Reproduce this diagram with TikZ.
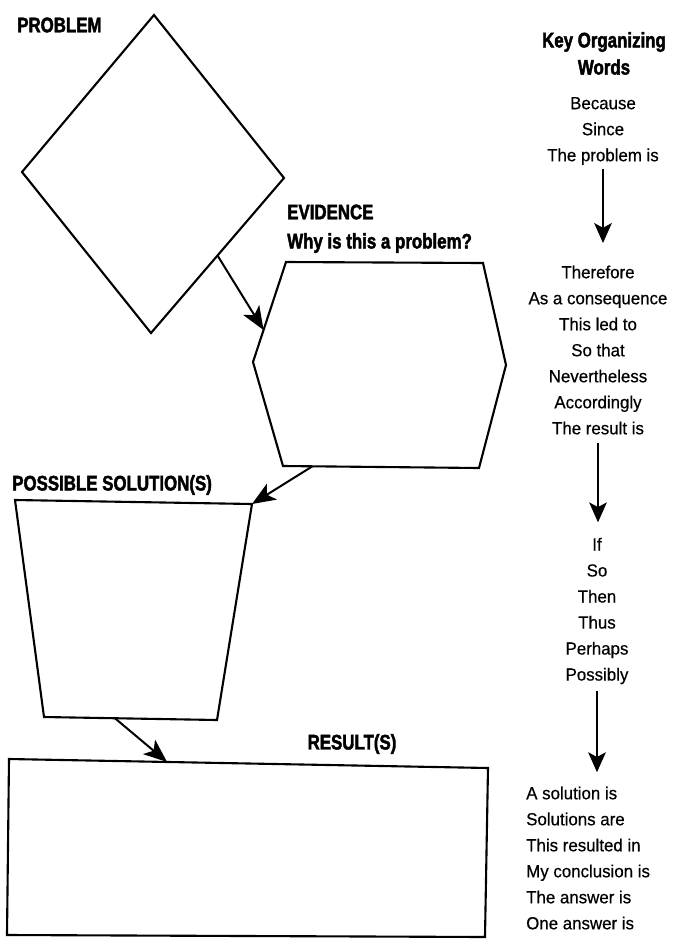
\documentclass[tikz,border=0pt]{standalone}
\usepackage{fontspec}
\setmainfont[FakeStretch=0.96,FakeBold=0.5]{Liberation Sans}
\newfontfamily\headfont[UprightFont=* Bold,FakeStretch=0.8,FakeBold=2]{Liberation Sans}
\usetikzlibrary{arrows.meta,calc}

\tikzset{
  outline/.style={line width=1.8pt, line join=miter},
  flowarrow/.style={line width=1.7pt, -{Stealth[length=20pt,width=16pt,inset=5pt]}},
  keyarrow/.style={line width=1.7pt, -{Stealth[length=17pt,width=15pt,inset=4pt]}},
  heading/.style={inner sep=0pt, font=\headfont\fontsize{18}{20}\selectfont},
  keywords/.style={inner sep=0pt, align=center, font=\fontsize{15}{22.2}\selectfont},
}

\begin{document}
\begin{tikzpicture}[x=0.03cm,y=-0.03cm]
\useasboundingbox (0,0) rectangle (676,939);
% corners of the four boxes
\coordinate (prob-n) at (154,15);
\coordinate (prob-e) at (284,178);
\coordinate (prob-s) at (151,333);
\coordinate (prob-w) at (22,172);
\coordinate (ev-nw) at (286,262);
\coordinate (ev-ne) at (483,263);
\coordinate (ev-e) at (506,365);
\coordinate (ev-se) at (479,468);
\coordinate (ev-sw) at (283,466);
\coordinate (ev-w) at (253,362);
\coordinate (sol-nw) at (15,500);
\coordinate (sol-ne) at (252,504);
\coordinate (sol-se) at (217,720);
\coordinate (sol-sw) at (44,717);
\coordinate (res-nw) at (9,759);
\coordinate (res-ne) at (488,768);
\coordinate (res-se) at (485,937);
\coordinate (res-sw) at (7,935);
\draw[outline] (prob-n) -- (prob-e) -- (prob-s) -- (prob-w) -- cycle;
\draw[outline] (ev-nw) -- (ev-ne) -- (ev-e) -- (ev-se) -- (ev-sw) -- (ev-w) -- cycle;
\draw[outline] (sol-nw) -- (sol-ne) -- (sol-se) -- (sol-sw) -- cycle;
\draw[outline] (res-nw) -- (res-ne) -- (res-se) -- (res-sw) -- cycle;
% box labels
\node[heading, anchor=west] (problem) at (17,25) {PROBLEM};
\node[heading, anchor=west] (evidence) at (287,212) {EVIDENCE};
\node[heading, anchor=west] (why) at (287,243) {Why is this a problem?};
\node[heading, anchor=west] (solution) at (12,485) {POSSIBLE SOLUTION(S)};
\node[heading] (result) at (352,744) {RESULT(S)};
% arrows between the boxes
\coordinate (prob-out) at ($(prob-e)!0.5!(prob-s)$);
\coordinate (ev-in) at ($(ev-nw)!0.68!(ev-w)$);
\coordinate (ev-out) at ($(ev-sw)!0.15!(ev-se)$);
\coordinate (sol-out) at ($(sol-sw)!0.41!(sol-se)$);
\coordinate (res-in) at ($(res-nw)!0.33!(res-ne)$);
\draw[flowarrow] (prob-out) -- (ev-in);
\draw[flowarrow] (ev-out) -- (sol-ne);
\draw[flowarrow] (sol-out) -- (res-in);
% word list on the right
\node[heading] (key) at (604,42) {Key Organizing};
\node[heading] (keywords) at (604,67) {Words};
\node[keywords] (words1) at (603,131) {Because\\Since\\The problem is};
\node[keywords] (words2) at (598,350) {Therefore\\As a consequence\\This led to\\So that\\Nevertheless\\Accordingly\\The result is};
\node[keywords] (words3) at (597,611) {If\\So\\Then\\Thus\\Perhaps\\Possibly};
\node[keywords, align=left, anchor=west] (words4) at (526,858) {A solution is\\Solutions are\\This resulted in\\My conclusion is\\The answer is\\One answer is};
\draw[keyarrow, shorten <=3pt, shorten >=19pt] (words1.south) -- (words1.south |- words2.north);
\draw[keyarrow, shorten <=7pt, shorten >=13pt] (words2.south) -- (words2.south |- words3.north);
\draw[keyarrow, shorten <=6pt, shorten >=12pt] (words3.south) -- (words3.south |- words4.north);
\end{tikzpicture}
\end{document}
